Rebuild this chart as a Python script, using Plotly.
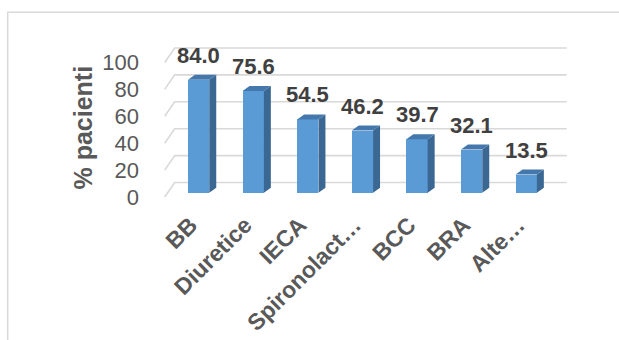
import plotly.graph_objects as go

# Medication classes and share of patients (%)
categories = ["BB", "Diuretice", "IECA", "Spironolact…", "BCC", "BRA", "Alte…"]
values = [84.0, 75.6, 54.5, 46.2, 39.7, 32.1, 13.5]
y_ticks = [0, 20, 40, 60, 80, 100]
y_title = "% pacienti"

# Pixel geometry of the pseudo-3D scene
W, H = 619, 340
PLOT_L, PLOT_R, PLOT_T, PLOT_B = 150, 580, 30, 206
X0, XPX = 198.6, 54.6      # pixel of first category, pixels per category
Y0, YPX = 197.0, 1.345     # pixel of value 0 on the front plane, pixels per unit


def dx(px):
    return px / XPX


def dy(px):
    return px / YPX


x_range = [(PLOT_L - X0) / XPX, (PLOT_R - X0) / XPX]
y_range = [(Y0 - PLOT_B) / YPX, (Y0 - PLOT_T) / YPX]

BAR_W = 0.39
BASE = dy(4.3)                 # bar floor sits slightly behind the front plane
DEPTH_X, DEPTH_Y = dx(7), dy(5)          # bar thickness
WALL_X, WALL_Y = dx(10), dy(14.5)        # back wall offset
LEFT_X = (164.7 - X0) / XPX
RIGHT_X = (566.7 - X0) / XPX

GRID = "#D9D9D9"
FRONT = "#5B9BD5"
SIDE = "#3A6893"
TOP = "#4478AD"
FONT = "Liberation Sans, Arial, sans-serif"

fig = go.Figure()
shapes = []

# Back-wall gridlines plus the receding side-wall lines, kept beneath the bars
for t in y_ticks:
    path = (f"M {LEFT_X},{t} L {LEFT_X + WALL_X},{t + WALL_Y} "
            f"L {RIGHT_X},{t + WALL_Y}")
    shapes.append(dict(type="path", xref="x", yref="y", path=path,
                       line=dict(color=GRID, width=1.6), layer="below"))

idx = list(range(len(categories)))

# Front faces
fig.add_trace(go.Bar(x=idx, y=values, base=[BASE] * len(values), width=BAR_W,
                     marker=dict(color=FRONT, line=dict(width=0)),
                     showlegend=False))

# Side and top faces
sx, sy, tx, ty = [], [], [], []
for i, v in zip(idx, values):
    xl, xr = i - BAR_W / 2, i + BAR_W / 2
    top = BASE + v
    sx += [xr, xr, xr + DEPTH_X, xr + DEPTH_X, xr, None]
    sy += [BASE, top, top + DEPTH_Y, BASE + DEPTH_Y, BASE, None]
    tx += [xl, xr, xr + DEPTH_X, xl + DEPTH_X, xl, None]
    ty += [top, top, top + DEPTH_Y, top + DEPTH_Y, top, None]
fig.add_trace(go.Scatter(x=sx, y=sy, mode="lines", fill="toself", fillcolor=SIDE,
                         line=dict(width=0, color=SIDE), hoverinfo="skip",
                         showlegend=False))
fig.add_trace(go.Scatter(x=tx, y=ty, mode="lines", fill="toself", fillcolor=TOP,
                         line=dict(width=0, color=TOP), hoverinfo="skip",
                         showlegend=False))

# Value labels above each bar
annotations = []
for i, v in zip(idx, values):
    annotations.append(dict(
        x=i, y=BASE + v + DEPTH_Y, xref="x", yref="y",
        text=f"{v:.1f}", showarrow=False, yanchor="middle", yshift=19.5,
        font=dict(family=FONT, size=22, color="#404040", weight="bold")))


def px_to_paper(px, py):
    return (px - PLOT_L) / (PLOT_R - PLOT_L), (PLOT_B - py) / (PLOT_B - PLOT_T)


# Axis title
ax_, ay_ = px_to_paper(82.5, 128)
annotations.append(dict(
    x=ax_, y=ay_, xref="paper", yref="paper", text=y_title, textangle=-90,
    showarrow=False, xanchor="center", yanchor="middle",
    font=dict(family=FONT, size=25, color="#595959", weight="bold")))

# Chart border
bx0, by0 = px_to_paper(7.7, 12.3)
bx1, by1 = px_to_paper(630, 360)
shapes.append(dict(type="rect", xref="paper", yref="paper", x0=bx0, y0=by1, x1=bx1,
                   y1=by0, line=dict(color="#D9D9D9", width=1.5),
                   fillcolor="rgba(0,0,0,0)", layer="below"))

fig.update_layout(
    width=W, height=H,
    margin=dict(l=PLOT_L, r=W - PLOT_R, t=PLOT_T, b=H - PLOT_B, autoexpand=False),
    paper_bgcolor="white", plot_bgcolor="white",
    bargap=0,
    annotations=annotations, shapes=shapes,
    xaxis=dict(range=x_range, tickvals=idx, ticktext=categories, tickangle=-45,
               showgrid=False, zeroline=False, showline=False, ticks="",
               ticklabelshift=-8,
               tickfont=dict(family=FONT, size=23, color="#595959", weight="bold"),
               fixedrange=True),
    yaxis=dict(range=y_range, tickvals=y_ticks, showgrid=False, zeroline=False,
               showline=False, ticks="", ticklabelstandoff=10,
               tickfont=dict(family=FONT, size=22, color="#595959"),
               fixedrange=True),
    font=dict(family=FONT),
)

fig.write_html("out.html")
